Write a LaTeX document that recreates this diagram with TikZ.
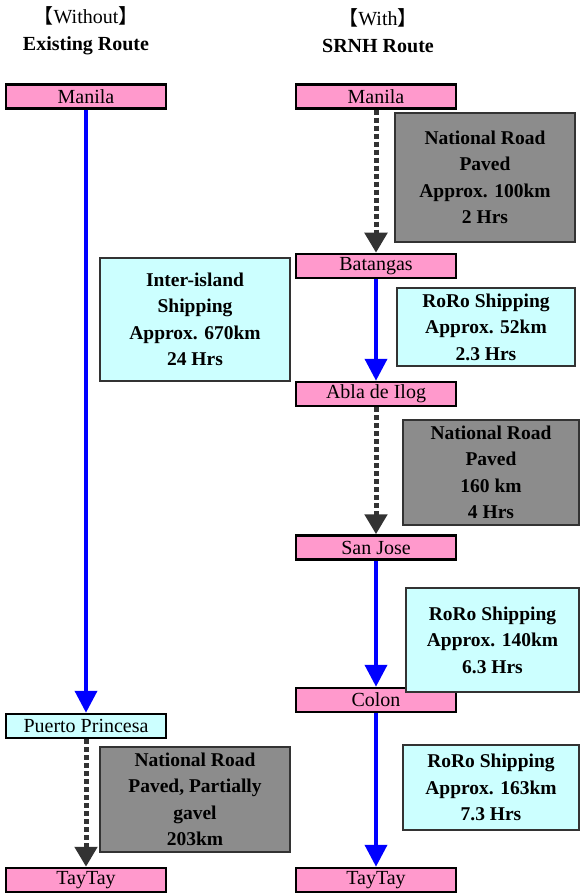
\documentclass[tikz,border=0pt]{standalone}
\usepackage{fontspec}
\setmainfont{Liberation Serif}
\newfontfamily\cjk{Noto Sans CJK JP}
\usepackage{tikz}
\usetikzlibrary{shapes,arrows.meta,positioning}
\definecolor{pinkbox}{HTML}{FF99CC}
\definecolor{cyanbox}{HTML}{CCFFFF}
\definecolor{graybox}{HTML}{8C8C8C}
\definecolor{darkline}{HTML}{333333}

\begin{document}
\begin{tikzpicture}[x=1pt,y=-1pt,
	place/.style={draw=black, line width=2.5pt, fill=pinkbox, minimum width=160pt, minimum height=24pt, inner sep=0pt, font=\fontsize{20}{22}\selectfont},
	infobox/.style={draw=darkline, line width=1.2pt, fill=cyanbox, inner sep=0pt, align=center, font=\fontsize{19.5}{26.4}\selectfont\bfseries},
	roadbox/.style={infobox, fill=graybox},
	sea/.style={draw=blue, line width=4pt, -{Triangle[width=22pt,length=22pt]}},
	road/.style={draw=darkline, line width=5pt, dash pattern=on 5pt off 3pt, -{Triangle[width=22pt,length=20pt,fill=darkline]}},
	head/.style={align=center, font=\fontsize{20}{27}\selectfont}]
				\useasboundingbox (0,0) rectangle (579,893);
				% headings
				\node[head] (hdA) at (86,31) {{\cjk【}Without{\cjk】}\\\textbf{Existing Route}};
				\node[head] (hdB) at (378,31) {{\cjk【}With{\cjk】}\\\textbf{SRNH Route}};
				% without
				\node[place] (mnlA) at (86,96.5) {Manila};
				\node[place, fill=cyanbox] (ppr) at (86,726) {Puerto Princesa};
				\node[place] (ttA) at (86,880) {TayTay};
				\node[infobox, minimum width=190pt, minimum height=123pt] (shipA) at (195,319.5) {Inter-island\\Shipping\\Approx. 670km\\24 Hrs};
				\node[roadbox, minimum width=190pt, minimum height=105pt] (rdA) at (195,799.5) {National Road\\Paved, Partially\\gavel\\203km};
				\draw [sea] (mnlA) -- (ppr);
				\draw [road] (ppr) -- (ttA);
				% with
				\node[place] (mnlB) at (376,96.5) {Manila};
				\node[place] (btg) at (376,266) {Batangas};
				\node[place] (abl) at (376,394) {Abla de Ilog};
				\node[place] (sjo) at (376,547.5) {San Jose};
				\node[place] (col) at (376,700) {Colon};
				\node[place] (ttB) at (376,880) {TayTay};
				\node[roadbox, minimum width=180pt, minimum height=129pt] (rdB1) at (485,177.5) {National Road\\Paved\\Approx. 100km\\2 Hrs};
				\node[infobox, minimum width=178pt, minimum height=78pt] (shipB1) at (486,327) {RoRo Shipping\\Approx. 52km\\2.3 Hrs};
				\node[roadbox, minimum width=176pt, minimum height=105pt] (rdB2) at (491,472.5) {National Road\\Paved\\160 km\\4 Hrs};
				\node[infobox, minimum width=173pt, minimum height=104pt] (shipB2) at (492.5,640) {RoRo Shipping\\Approx. 140km\\6.3 Hrs};
				\node[infobox, minimum width=176pt, minimum height=85pt] (shipB3) at (491,787.5) {RoRo Shipping\\Approx. 163km\\7.3 Hrs};
				\draw [road] (mnlB) -- (btg);
				\draw [sea] (btg) -- (abl);
				\draw [road] (abl) -- (sjo);
				\draw [sea] (sjo) -- (col);
				\draw [sea] (col) -- (ttB);
				\end{tikzpicture}
\end{document}
